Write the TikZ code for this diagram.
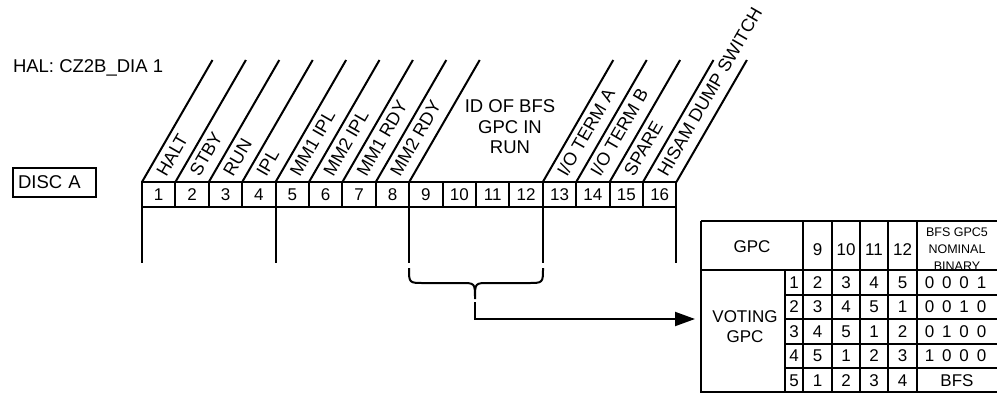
\documentclass[tikz,border=0pt]{standalone}
\usepackage{fontspec}
\setmainfont{Liberation Sans}
\usetikzlibrary{arrows.meta,calc}
\begin{document}
\begin{tikzpicture}[x=1pt,y=-1pt, line width=2pt,
  numbox/.style={draw, minimum width=33.4pt, minimum height=25pt, inner sep=0pt, outer sep=0pt, font=\fontsize{17}{18}\selectfont},
  diag/.style={font=\fontsize{18}{20}\selectfont, inner sep=0pt, text height=12.9pt, text depth=0pt, anchor=west, rotate=60},
  txt/.style={font=\fontsize{18.5}{20.5}\selectfont, inner sep=0pt},
  cell/.style={font=\fontsize{17}{20}\selectfont, inner sep=0pt},
  small/.style={font=\fontsize{12.5}{17}\selectfont, inner sep=0pt, align=center}
]
\useasboundingbox (0,0) rectangle (997,394);

% title and DISC A
\node[txt, anchor=west] (hal) at (12,68) {HAL: CZ2B\_DIA 1};
\node[draw, txt, anchor=west, inner xsep=5pt, inner ysep=0pt, text width=73pt, minimum height=29pt, outer sep=0pt] (disc) at (13,182.5) {DISC A};

% numbered boxes
\foreach \i in {1,...,16} {
  \node[numbox] (b\i) at ({142+33.4*(\i-0.5)},194.5) {\i};
}

% diagonal lines
\foreach \i in {1,...,9,13,14,15,16} {
  \draw (b\i.north west) -- ++(70.5,-122);
}
\draw (b16.north east) -- ++(70.5,-122);

% diagonal labels
\node[diag] (l1) at ($(b1.north)+(1.5,-7)$) {HALT};
\node[diag] (l2) at ($(b2.north)+(1.5,-7)$) {STBY};
\node[diag] (l3) at ($(b3.north)+(1.5,-7)$) {RUN};
\node[diag] (l4) at ($(b4.north)+(1.5,-7)$) {IPL};
\node[diag] (l5) at ($(b5.north)+(1.5,-7)$) {MM1 IPL};
\node[diag] (l6) at ($(b6.north)+(1.5,-7)$) {MM2 IPL};
\node[diag] (l7) at ($(b7.north)+(1.5,-7)$) {MM1 RDY};
\node[diag] (l8) at ($(b8.north)+(1.5,-7)$) {MM2 RDY};
\node[diag] (l13) at ($(b13.north)+(1.5,-7)$) {I/O TERM A};
\node[diag] (l14) at ($(b14.north)+(1.5,-7)$) {I/O TERM B};
\node[diag] (l15) at ($(b15.north)+(1.5,-7)$) {SPARE};
\node[diag] (l16) at ($(b16.north)+(1.5,-7)$) {HISAM DUMP SWITCH};

\node[txt, align=center] (idbfs) at (510,127) {ID OF BFS\\GPC IN\\RUN};

% vertical drop lines
\draw (b1.south west) -- ++(0,56);
\draw (b5.south west) -- ++(0,56);
\draw (b9.south west) -- ++(0,56);
\draw (b13.south west) -- ++(0,56);
\draw (b16.south east) -- ++(0,56);

% brace
\draw (409,268) .. controls (409,283) .. (424,283) -- (461,283)
      .. controls (475,283) .. (475,299)
      .. controls (475,283) .. (489,283) -- (528,283)
      .. controls (543,283) .. (543,268);
\coordinate (brtip) at (475,302);
\coordinate (arr) at (695,319);
\draw[-{Triangle[length=20pt,width=14pt]}] (brtip) |- (arr);

% table grid
\draw (701,221) -- (997,221);
\draw (701,221) -- (701,392) -- (997,392);
\draw (701,270) -- (997,270);
\foreach \x in {803,832,860,888,917} {\draw (\x,221) -- (\x,392);}
\draw (785,270) -- (785,392);
\foreach \y in {294.5,319,343.5,368} {\draw (785,\y) -- (997,\y);}

% table header
\node[cell] (hgpc) at (752,247) {GPC};
\node[cell] (h9) at (817.5,250) {9};
\node[cell] (h10) at (846,250) {10};
\node[cell] (h11) at (874,250) {11};
\node[cell] (h12) at (902.5,250) {12};
\node[small] (hbfs) at (957,249) {BFS GPC5\\NOMINAL\\BINARY};
\node[cell, align=center] (vgpc) at (745,327) {VOTING\\GPC};

% table rows
\foreach \r/\va/\vb/\vc/\vd/\ba/\bb/\bc/\bd in {1/2/3/4/5/0/0/0/1, 2/3/4/5/1/0/0/1/0, 3/4/5/1/2/0/1/0/0, 4/5/1/2/3/1/0/0/0} {
  \pgfmathsetmacro\yy{270+24.5*(\r-0.5)}
  \node[cell] (n\r) at (794,\yy) {\r};
  \node[cell] (c\r a) at (817.5,\yy) {\va};
  \node[cell] (c\r b) at (846,\yy) {\vb};
  \node[cell] (c\r c) at (874,\yy) {\vc};
  \node[cell] (c\r d) at (902.5,\yy) {\vd};
  \node[cell] (d\r a) at (929.5,\yy) {\ba};
  \node[cell] (d\r b) at (946.8,\yy) {\bb};
  \node[cell] (d\r c) at (964.2,\yy) {\bc};
  \node[cell] (d\r d) at (981.5,\yy) {\bd};
}
\node[cell] (n5) at (794,380.25) {5};
\node[cell] (c5a) at (817.5,380.25) {1};
\node[cell] (c5b) at (846,380.25) {2};
\node[cell] (c5c) at (874,380.25) {3};
\node[cell] (c5d) at (902.5,380.25) {4};
\node[cell] (d5) at (957,380.25) {BFS};
\end{tikzpicture}
\end{document}
